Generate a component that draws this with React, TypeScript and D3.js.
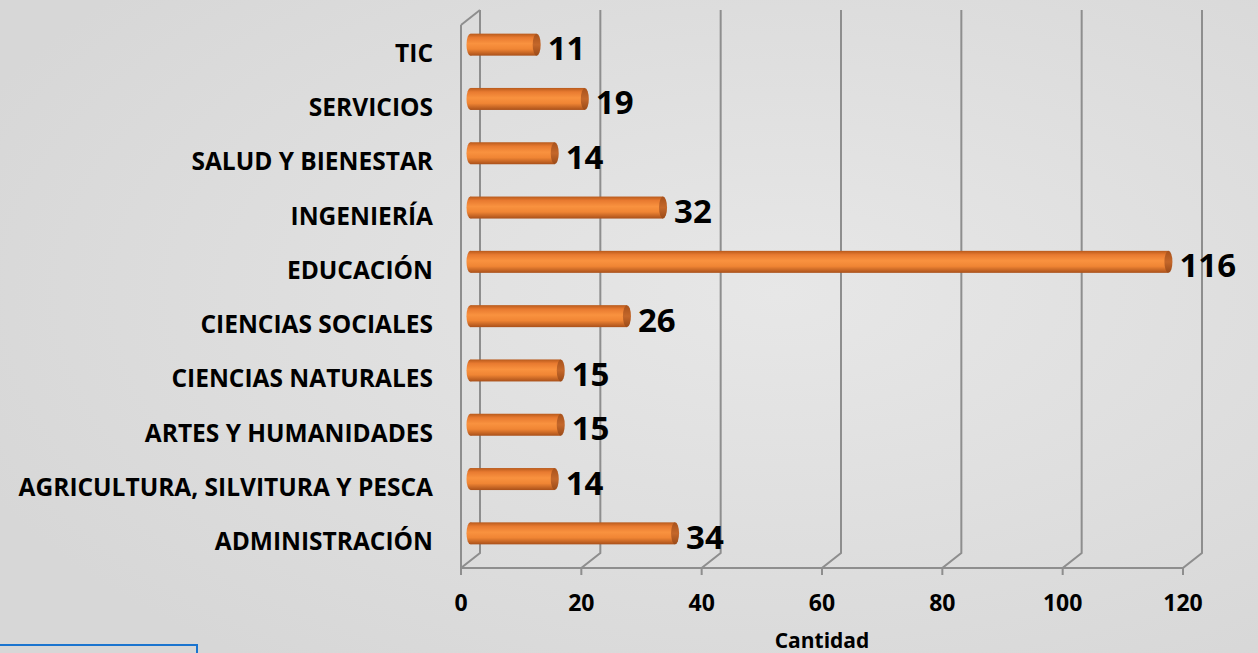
import React from "react";
import * as d3 from "d3";

const categories = [
  "ADMINISTRACIÓN",
  "AGRICULTURA, SILVITURA Y PESCA",
  "ARTES Y HUMANIDADES",
  "CIENCIAS NATURALES",
  "CIENCIAS SOCIALES",
  "EDUCACIÓN",
  "INGENIERÍA",
  "SALUD Y BIENESTAR",
  "SERVICIOS",
  "TIC",
];
const values = [34, 14, 15, 15, 26, 116, 32, 14, 19, 11];
const xTicks = [0, 20, 40, 60, 80, 100, 120];
const axisTitle = "Cantidad";

const W = 1258;
const H = 653;
const DX = 19; // depth offset x
const DY = -15; // depth offset y
const FONT = "'Open Sans', Lato, sans-serif";

export default function App() {
  const x = d3.scaleLinear().domain([0, 120]).range([461, 1183]);
  // back wall band scale (top = TIC)
  const y = d3
    .scaleBand<string>()
    .domain([...categories].reverse())
    .range([10, 553])
    .paddingInner(0)
    .paddingOuter(0);
  const bw = y.bandwidth();
  const floorY = 568;
  const topBack = 10;
  const backBottom = floorY + DY;
  const barH = 22;
  const capRx = 4;

  const midX = (v: number) => x(v) + DX / 2;
  const midY = (c: string) => (y(c) as number) + bw / 2 - DY / 2;
  const frontY = (c: string) => (y(c) as number) + bw / 2 - DY;

  const gridColor = "#8e8e8e";

  return (
    <svg
      width={W}
      height={H}
      style={{ position: "absolute", left: 0, top: 0, display: "block" }}
      fontFamily={FONT}
    >
      <defs>
        <radialGradient id="bg" cx="62%" cy="45%" r="70%">
          <stop offset="0%" stopColor="#e7e7e7" />
          <stop offset="100%" stopColor="#d7d7d7" />
        </radialGradient>
        <linearGradient id="cyl" x1="0" y1="0" x2="0" y2="1">
          <stop offset="0%" stopColor="#b85a1c" />
          <stop offset="18%" stopColor="#e87a30" />
          <stop offset="45%" stopColor="#f9923f" />
          <stop offset="70%" stopColor="#f08534" />
          <stop offset="100%" stopColor="#a9501a" />
        </linearGradient>
        <linearGradient id="cap" x1="0" y1="0" x2="0" y2="1">
          <stop offset="0%" stopColor="#a8521c" />
          <stop offset="50%" stopColor="#c4672a" />
          <stop offset="100%" stopColor="#9a4a18" />
        </linearGradient>
      </defs>
      <rect x={0} y={0} width={W} height={H} fill="url(#bg)" />

      {/* left wall */}
      <g stroke={gridColor} strokeWidth={2} fill="none">
        <line x1={x(0)} y1={topBack - DY} x2={x(0)} y2={floorY} />
        <line x1={x(0)} y1={topBack - DY} x2={x(0) + DX} y2={topBack} />
        {xTicks.map((t) => (
          <polyline
            key={t}
            points={`${x(t) + DX},${topBack} ${x(t) + DX},${backBottom} ${x(t)},${floorY} ${x(t)},${floorY + 7}`}
          />
        ))}
        <line x1={x(0)} y1={floorY} x2={x(120)} y2={floorY} />
      </g>

      {/* bars */}
      {categories.map((c, i) => {
        const v = values[i];
        const cy = midY(c);
        const x0 = midX(0);
        const x1 = midX(v);
        return (
          <g key={c}>
            <ellipse cx={x0} cy={cy} rx={capRx} ry={barH / 2} fill="url(#cyl)" />
            <rect x={x0} y={cy - barH / 2} width={x1 - x0} height={barH} fill="url(#cyl)" />
            <ellipse cx={x1} cy={cy} rx={capRx} ry={barH / 2} fill="url(#cap)" />
            <text
              x={x1 + capRx + 7}
              y={cy + 3}
              dominantBaseline="central"
              fontSize={33}
              fontWeight={700}
              fill="#000"
            >
              {v}
            </text>
          </g>
        );
      })}

      {/* category labels */}
      {categories.map((c) => (
        <text
          key={c}
          x={433}
          y={frontY(c)}
          textAnchor="end"
          dominantBaseline="central"
          fontSize={24.5}
          fontWeight={700}
          fill="#000"
        >
          {c}
        </text>
      ))}

      {/* x tick labels */}
      {xTicks.map((t) => (
        <text
          key={t}
          x={x(t)}
          y={602}
          textAnchor="middle"
          dominantBaseline="central"
          fontSize={23}
          fontWeight={700}
          fill="#000"
        >
          {t}
        </text>
      ))}
      <text
        x={(x(0) + x(120)) / 2}
        y={640}
        textAnchor="middle"
        dominantBaseline="central"
        fontSize={21}
        fontWeight={700}
        fill="#000"
      >
        {axisTitle}
      </text>

      {/* blue box at bottom-left */}
      <rect x={-2} y={645} width={199} height={20} fill="none" stroke="#1a74cf" strokeWidth={2} />
    </svg>
  );
}
